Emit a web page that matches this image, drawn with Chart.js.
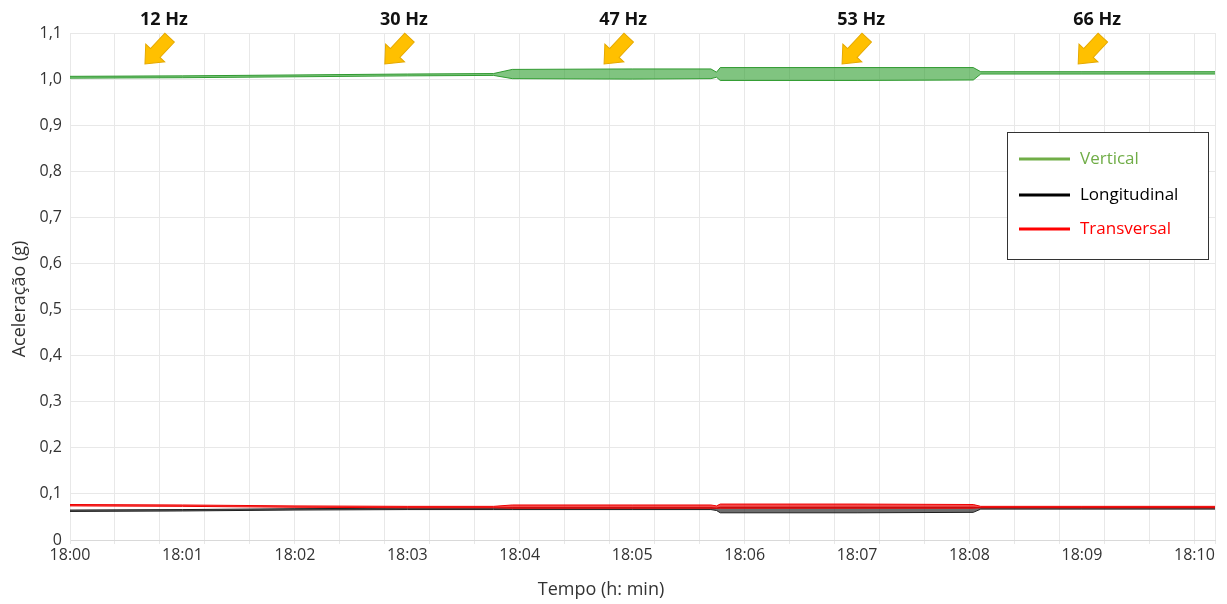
<!DOCTYPE html>
<html>
<head>
<meta charset="utf-8">
<script src="https://cdn.jsdelivr.net/npm/chart.js@4.4.0/dist/chart.umd.min.js"></script>
<style>
  html, body { margin: 0; padding: 0; background: #fff; }
  #wrap { width: 1227px; height: 604px; }
</style>
</head>
<body>
<div id="wrap"><canvas id="grafico"></canvas></div>
<script>
// tempo em segundos desde 18:00
const tempo = [0, 60, 120, 180, 226, 236, 300, 342, 345, 347, 420, 482, 486, 540, 611];

// envoltórias (máx / mín) de cada eixo, em g
const verticalSup = [1.006, 1.007, 1.009, 1.011, 1.012, 1.021, 1.022, 1.022, 1.015, 1.025, 1.025, 1.025, 1.016, 1.016, 1.016];
const verticalInf = [1.002, 1.003, 1.005, 1.007, 1.008, 1.001, 1.000, 1.001, 1.004, 0.997, 0.997, 0.998, 1.011, 1.011, 1.011];
const longSup = [0.065, 0.066, 0.068, 0.069, 0.069, 0.070, 0.070, 0.070, 0.069, 0.071, 0.071, 0.071, 0.070, 0.070, 0.070];
const longInf = [0.062, 0.063, 0.065, 0.066, 0.066, 0.066, 0.066, 0.066, 0.064, 0.059, 0.059, 0.060, 0.067, 0.067, 0.067];
const transSup = [0.077, 0.076, 0.074, 0.073, 0.073, 0.076, 0.076, 0.076, 0.074, 0.078, 0.078, 0.077, 0.073, 0.073, 0.073];
const transInf = [0.074, 0.073, 0.071, 0.070, 0.070, 0.069, 0.069, 0.069, 0.069, 0.069, 0.069, 0.069, 0.070, 0.070, 0.070];

// frequências indicadas pelas setas (tempo da ponta da seta, s)
const freqLabels = ['12 Hz', '30 Hz', '47 Hz', '53 Hz', '66 Hz'];
const freqTempo = [40, 168, 285, 412, 538];

const legendaNomes = ['Vertical', 'Longitudinal', 'Transversal'];
const legendaCores = ['#70AD47', '#000000', '#FF0000'];

const FONTE = "'Open Sans', 'Noto Sans', sans-serif";
const TMAX = 611;

function pares(ys) {
    return tempo.map((t, i) => ({ x: t, y: ys[i] }));
}

function banda(label, sup, inf, cor, fundo, ordem) {
    return [
        { label: label, data: pares(sup), borderColor: cor, backgroundColor: fundo,
          borderWidth: 1, pointRadius: 0, fill: '+1', order: ordem, tension: 0 },
        { label: label + ' inf', data: pares(inf), borderColor: cor, backgroundColor: fundo,
          borderWidth: 1, pointRadius: 0, fill: false, order: ordem, tension: 0 }
    ];
}

function desenhaSeta(ctx, x, y) {
    const L = 36, hl = 15, hw = 13, sw = 6.5;
    ctx.save();
    ctx.translate(x, y);
    ctx.rotate(Math.PI * 0.74);
    ctx.beginPath();
    ctx.moveTo(0, 0);
    ctx.lineTo(-hl, hw);
    ctx.lineTo(-hl, sw);
    ctx.lineTo(-L, sw);
    ctx.lineTo(-L, -sw);
    ctx.lineTo(-hl, -sw);
    ctx.lineTo(-hl, -hw);
    ctx.closePath();
    ctx.fillStyle = '#FFC000';
    ctx.fill();
    ctx.strokeStyle = '#E5A900';
    ctx.lineWidth = 1;
    ctx.stroke();
    ctx.restore();
}

const extras = {
    id: 'extras',
    afterDraw(chart) {
        const ctx = chart.ctx;
        const xs = chart.scales.x, ys = chart.scales.y;
        ctx.save();

        // setas e rótulos
        ctx.font = 'bold 18px ' + FONTE;
        ctx.textAlign = 'center';
        ctx.textBaseline = 'middle';
        freqTempo.forEach((t, i) => {
            const px = xs.getPixelForValue(t);
            const py = ys.getPixelForValue(1.033);
            desenhaSeta(ctx, px, py);
            ctx.fillStyle = '#111';
            ctx.fillText(freqLabels[i], px + 19, 20);
        });

        // títulos dos eixos
        ctx.font = '18px ' + FONTE;
        ctx.fillStyle = '#333';
        ctx.fillText('Tempo (h: min)', 601, 590);
        ctx.save();
        ctx.translate(20, 299);
        ctx.rotate(-Math.PI / 2);
        ctx.fillText('Aceleração (g)', 0, 0);
        ctx.restore();

        // legenda
        ctx.fillStyle = '#fff';
        ctx.fillRect(1007, 132, 202, 128);
        ctx.strokeStyle = '#333';
        ctx.lineWidth = 1;
        ctx.strokeRect(1007.5, 132.5, 201, 127);
        ctx.font = '17px ' + FONTE;
        ctx.textAlign = 'left';
        const yy = [159, 195, 229];
        legendaNomes.forEach((n, i) => {
            ctx.strokeStyle = legendaCores[i];
            ctx.lineWidth = 3;
            ctx.beginPath();
            ctx.moveTo(1019, yy[i]);
            ctx.lineTo(1070, yy[i]);
            ctx.stroke();
            ctx.fillStyle = legendaCores[i];
            ctx.fillText(n, 1080, yy[i]);
        });
        ctx.restore();
    }
};

const ctx = document.getElementById('grafico').getContext('2d');
const grafico = new Chart(ctx, {
    type: 'line',
    data: {
        datasets: [
            ...banda('Vertical', verticalSup, verticalInf, 'rgba(40,150,40,0.95)', 'rgba(50,160,50,0.62)', 3),
            ...banda('Longitudinal', longSup, longInf, 'rgb(30,30,30)', 'rgba(30,30,30,0.65)', 2),
            ...banda('Transversal', transSup, transInf, 'rgb(240,0,0)', 'rgba(240,0,0,0.7)', 1)
        ]
    },
    options: {
        responsive: true,
        maintainAspectRatio: false,
        animation: false,
        layout: { padding: { top: 33, right: 12, left: 0, bottom: 0 } },
        plugins: {
            legend: { display: false },
            tooltip: { enabled: false }
        },
        scales: {
            x: {
                type: 'linear',
                min: 0,
                max: TMAX,
                afterFit: (s) => { s.height = 64; },
                afterBuildTicks: (s) => {
                    const t = [];
                    for (let v = 0; v <= 600; v += 12) t.push({ value: v });
                    t.push({ value: TMAX });
                    s.ticks = t;
                },
                grid: {
                    color: (c) => (c.tick && (c.tick.value % 24 === 0 || c.tick.value === TMAX)) ? '#e8e8e8' : 'rgba(0,0,0,0)',
                    tickLength: 4
                },
                border: { color: '#d9d9d9' },
                ticks: {
                    autoSkip: false,
                    maxRotation: 0,
                    padding: 2,
                    color: '#333',
                    font: { family: FONTE, size: 16 },
                    callback: (v) => {
                        if (v % 60 !== 0) return '';
                        const m = v / 60;
                        return '18:' + (m < 10 ? '0' + m : m);
                    }
                }
            },
            y: {
                min: 0,
                max: 1.1,
                afterFit: (s) => { s.width = 70; },
                grid: { color: '#e8e8e8', drawTicks: false },
                border: { color: '#e8e8e8' },
                ticks: {
                    stepSize: 0.1,
                    padding: 8,
                    color: '#333',
                    font: { family: FONTE, size: 16 },
                    callback: (v) => {
                        const r = Math.round(v * 10) / 10;
                        return r === 0 ? '0' : r.toFixed(1).replace('.', ',');
                    }
                }
            }
        }
    },
    plugins: [extras]
});
</script>
</body>
</html>
